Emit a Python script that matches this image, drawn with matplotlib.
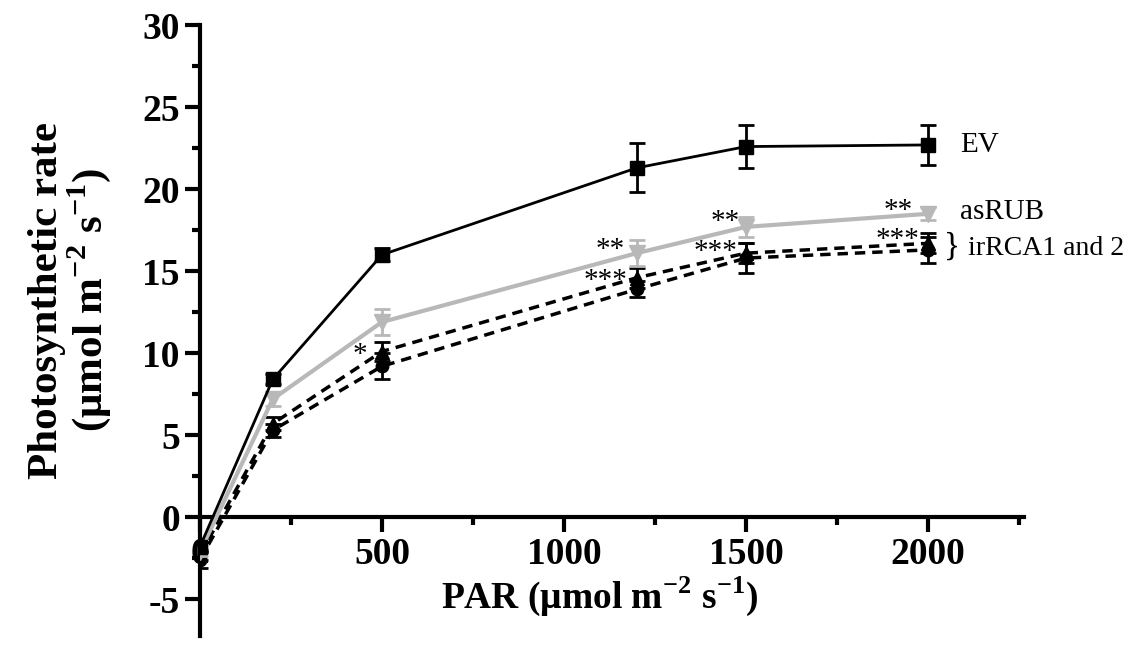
import matplotlib
matplotlib.use('agg')
import matplotlib.pyplot as plt
from matplotlib.ticker import MultipleLocator

plt.rcParams['font.family'] = ['Liberation Serif', 'DejaVu Serif']
plt.rcParams['mathtext.fontset'] = 'custom'
plt.rcParams['mathtext.rm'] = 'Liberation Serif'
plt.rcParams['mathtext.bf'] = 'Liberation Serif:bold'
plt.rcParams['axes.unicode_minus'] = False

# PAR levels
par = [0, 200, 500, 1200, 1500, 2000]

# photosynthetic rate, mean and error
ev = [-1.8, 8.4, 16.0, 21.3, 22.6, 22.7]
ev_err = [0.3, 0.3, 0.4, 1.5, 1.3, 1.2]
asrub = [-2.1, 7.2, 11.9, 16.1, 17.7, 18.5]
asrub_err = [0.3, 0.4, 0.8, 0.8, 0.6, 0.4]
rca1 = [-2.3, 5.7, 10.1, 14.6, 16.1, 16.7]
rca1_err = [0.3, 0.4, 0.6, 0.6, 0.6, 0.6]
rca2 = [-2.6, 5.3, 9.2, 13.9, 15.8, 16.3]
rca2_err = [0.5, 0.4, 0.8, 0.5, 0.9, 0.8]

# significance marks: (x, y, text)
stars = [(440, 9.9, '*'), (1126, 16.3, '**'), (1113, 14.4, '***'),
         (1442, 18.0, '**'), (1415, 16.2, '***'),
         (1918, 18.7, '**'), (1915, 16.9, '***')]

fig = plt.figure(figsize=(11.31, 6.47), dpi=100)
ax = fig.add_axes([0.1768, 0.017, 0.729, 0.944])

ax.errorbar(par, ev, yerr=ev_err, color='black', lw=2, marker='s', ms=10,
            capsize=6, elinewidth=2, capthick=2, zorder=5)
ax.errorbar(par, asrub, yerr=asrub_err, color='#b8b8b8', lw=3, marker='v', ms=11,
            capsize=6, elinewidth=2, capthick=2, zorder=4)
ax.errorbar(par, rca1, yerr=rca1_err, color='black', lw=2.5, ls=(0, (3, 2)), marker='^',
            ms=10, capsize=6, elinewidth=2, capthick=2, zorder=3)
ax.errorbar(par, rca2, yerr=rca2_err, color='black', lw=2.5, ls=(0, (3, 2)), marker='o',
            ms=9, capsize=6, elinewidth=2, capthick=2, zorder=3)

for x, y, s in stars:
    ax.text(x, y, s, fontsize=21, ha='center', va='center')

ax.text(2088, 22.7, 'EV', fontsize=21, va='center')
ax.text(2088, 18.6, 'asRUB', fontsize=21, va='center')
ax.text(2045, 16.5, '}', fontsize=24, va='center')
ax.text(2110, 16.4, 'irRCA1 and 2', fontsize=20, va='center')

ax.set_xlim(0, 2265)
ax.set_ylim(-7.25, 30)

ax.spines['top'].set_visible(False)
ax.spines['right'].set_visible(False)
ax.spines['bottom'].set_position(('data', 0))
for sp in ('left', 'bottom'):
    ax.spines[sp].set_linewidth(3)

ax.xaxis.set_major_locator(MultipleLocator(500))
ax.xaxis.set_minor_locator(MultipleLocator(250))
ax.yaxis.set_major_locator(MultipleLocator(5))
ax.yaxis.set_minor_locator(MultipleLocator(2.5))
ax.tick_params(which='major', direction='out', length=11, width=3, labelsize=27)
ax.tick_params(which='minor', direction='out', length=6, width=3)
for lab in ax.get_xticklabels() + ax.get_yticklabels():
    lab.set_fontweight('bold')

ax.set_xlabel(r'PAR ($\mathbf{\mu}$mol m$^{\mathbf{-2}}$ s$^{\mathbf{-1}}$)',
              fontsize=27, fontweight='bold', labelpad=2)
ax.xaxis.label.set_x(0.485)
ax.set_ylabel('Photosynthetic rate\n' r'($\mathbf{\mu}$mol m$^{\mathbf{-2}}$ s$^{\mathbf{-1}}$)',
              fontsize=31, fontweight='bold', linespacing=1.0)
ax.yaxis.set_label_coords(-0.105, 0.55)

fig.savefig('out.png', dpi=100)
